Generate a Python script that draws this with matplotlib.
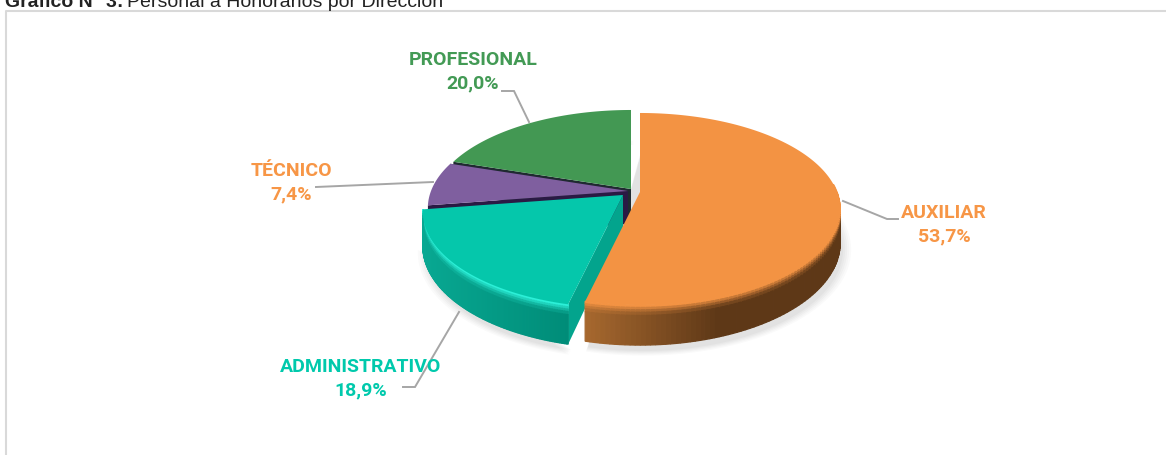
import numpy as np
import matplotlib
matplotlib.use("Agg")
import matplotlib.pyplot as plt
from matplotlib.patches import Polygon
from matplotlib.colors import to_rgb

# datos del grafico
categories = ["AUXILIAR", "ADMINISTRATIVO", "TÉCNICO", "PROFESIONAL"]
shares = [53.7, 18.9, 7.4, 20.0]
pct_labels = ["53,7%", "18,9%", "7,4%", "20,0%"]
label_colors = ["#F79646", "#00C9AC", "#F79646", "#439A55"]

top_colors = ["#F39343", "#05C7AB", "#7F5F9F", "#439853"]
wall_left = ["#A8692F", "#08A892", "#3A2458", "#2B6A3A"]
wall_right = ["#5E3817", "#008C78", "#2A1A44", "#2B6A3A"]
rim_colors = ["#F39343", "#2CF0D8", "#7F5F9F", "#439853"]
inner_colors = ["#6B4019", "#03A48D", "#2A1A44", "#1F2A30"]

# apice de cada sector, en pixeles (el sector esta separado del centro)
apex = [(640, 192), (623, 195), (628, 191), (631, 189)]
RX, RY, K, DEPTH = 197, 93, 0.177, 33

plt.rcParams['font.family'] = ['Roboto', 'Liberation Sans']

fig = plt.figure(figsize=(11.66, 4.55), dpi=100)
ax = fig.add_axes([0, 0, 1, 1])
ax.set_xlim(0, 1166)
ax.set_ylim(455, 0)
ax.axis('off')


def project(a, t):
    # disco visto en perspectiva, t en grados desde arriba en sentido horario
    X = np.sin(np.radians(t))
    Y = np.cos(np.radians(t))
    w = 1 + K * Y
    return a[0] + RX * X / w, a[1] - RY * Y / w, DEPTH / w


def mix(c1, c2, f):
    c1, c2 = np.array(to_rgb(c1)), np.array(to_rgb(c2))
    return tuple(c1 + (c2 - c1) * f)


bounds = np.concatenate([[0], np.cumsum(shares) / sum(shares) * 360])

# sombra suave
for s, a0 in [(1.04, 0.04), (1.03, 0.04), (1.02, 0.05), (1.01, 0.05), (1.0, 0.06)]:
    for i in [0, 1, 3]:
        ts = np.linspace(bounds[i], bounds[i + 1], 80)
        x, y, d = project(apex[i], ts)
        ax.fill(apex[i][0] + (x - apex[i][0]) * s + 3, apex[i][1] + (y - apex[i][1]) * s + d + 6,
                color='gray', alpha=a0, lw=0, zorder=1)

# tramos verticales de la pared, el primero forma el bisel
bevel = [(0.0, 0.06, 0.0), (0.06, 0.12, 0.3), (0.12, 0.18, 0.6), (0.18, 0.26, 0.85), (0.26, 1.0, 1.0)]

# se dibuja de atras hacia adelante
for i in [3, 2, 1, 0]:
    ts = np.linspace(bounds[i], bounds[i + 1], 160)
    x, y, d = project(apex[i], ts)
    z = 3 + (3 - i)
    # cara interior del corte
    ax.add_patch(Polygon([apex[i], (x[0], y[0]), (x[0], y[0] + d[0]),
                          (apex[i][0], apex[i][1] + DEPTH)],
                         fc=inner_colors[i], lw=0, zorder=z))
    if i == 2:
        ax.add_patch(Polygon([apex[i], (x[-1], y[-1]), (x[-1], y[-1] + 8),
                              (apex[i][0], apex[i][1] + 8)],
                             fc=inner_colors[i], lw=0, zorder=z))
    # paredes laterales visibles
    if i in (0, 1):
        for j in range(len(ts) - 1):
            if ts[j] < 84:
                continue
            f = (x[j] - x.min()) / max(x.max() - x.min(), 1)
            base = mix(wall_left[i], wall_right[i], min(f * 1.9, 1) if i == 0 else f)
            for v0, v1, m in bevel:
                col = mix(rim_colors[i], base, m)
                ax.add_patch(Polygon([(x[j], y[j] + d[j] * v0), (x[j + 1], y[j + 1] + d[j + 1] * v0),
                                      (x[j + 1], y[j + 1] + d[j + 1] * v1), (x[j], y[j] + d[j] * v1)],
                                     fc=col, ec=col, lw=0.9, zorder=z + 0.1))
    # cara superior
    ax.fill(np.r_[apex[i][0], x], np.r_[apex[i][1], y], color=top_colors[i], lw=0, zorder=z + 0.5)

# lineas guia
leaders = [
    [(843, 201), (887, 219), (898, 219)],
    [(459, 312), (415, 387), (403, 387)],
    [(433, 182), (316, 187)],
    [(529, 122), (514, 91), (502, 91)],
]
for pts in leaders:
    ax.plot(*zip(*pts), color="#A6A6A6", lw=1.4, zorder=2, solid_joinstyle='miter')

# etiquetas
label_pos = [(944, 225), (361, 379), (291, 183), (473, 72)]
for i, (lx, ly) in enumerate(label_pos):
    ax.text(lx, ly, f"{categories[i]}\n{pct_labels[i]}", color=label_colors[i], fontsize=14,
            fontweight='bold', ha='center', va='center', linespacing=1.37, zorder=20)

# marco y titulo
ax.plot([5.5, 5.5, 1166], [455, 10.5, 10.5], color="#D9D9D9", lw=1.5, zorder=1)
ax.text(5, 7, "Gráfico N° 3:", fontsize=14, fontweight='bold', color="#222222", va='baseline', ha='left',
        family='Liberation Sans')
ax.text(127, 7, "Personal a Honorarios por Dirección", fontsize=14, color="#222222", va='baseline', ha='left',
        family='Liberation Sans')

fig.savefig("out.png", dpi=100)
